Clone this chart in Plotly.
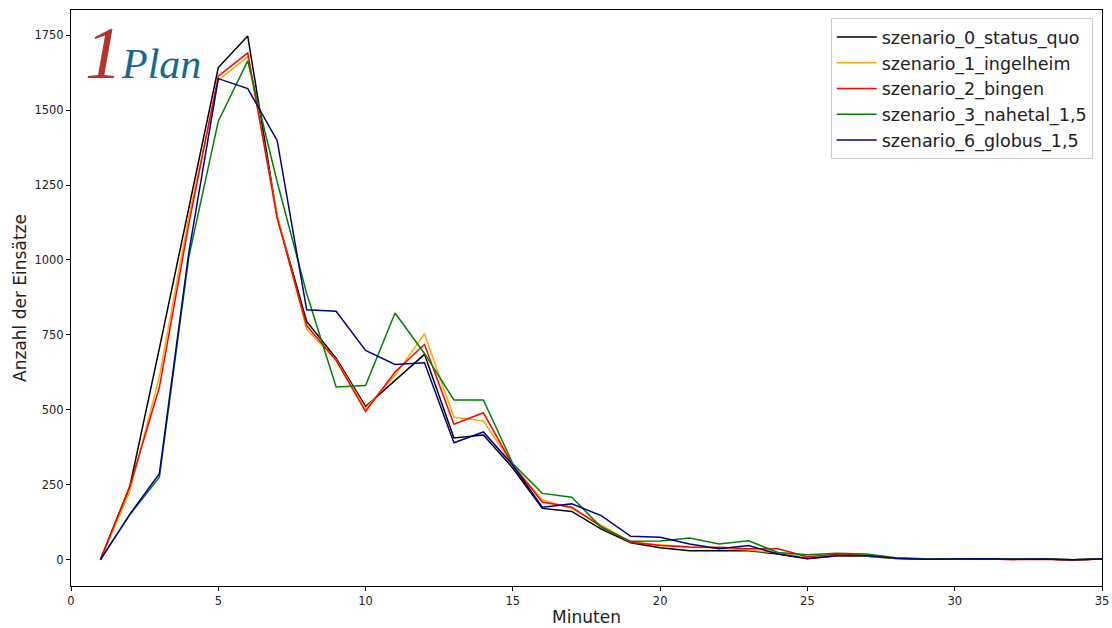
import plotly.graph_objects as go

minutes = list(range(1, 36))

names = ["szenario_0_status_quo", "szenario_1_ingelheim", "szenario_2_bingen",
         "szenario_3_nahetal_1,5", "szenario_6_globus_1,5"]

status_quo = [0, 245, 705, 1175, 1642, 1747, 1143, 795, 672, 511, 598, 685, 406, 416, 305,
              171, 161, 102, 56, 40, 30, 30, 30, 19, 3, 13, 11, 4, 1, 2, 3, 1, 2, 0, 2]
ingelheim = [0, 228, 610, 1145, 1600, 1678, 1150, 768, 667, 504, 615, 754, 475, 463, 315,
             199, 171, 114, 59, 50, 42, 38, 32, 22, 8, 13, 12, 4, 2, 2, 3, 1, 2, 0, 2]
bingen = [0, 245, 575, 1120, 1613, 1691, 1139, 781, 665, 495, 626, 718, 452, 490, 315,
          192, 175, 110, 58, 47, 42, 41, 36, 36, 10, 18, 15, 5, 2, 2, 3, 0, 1, -2, 2]
nahetal = [0, 150, 275, 1010, 1463, 1664, 1260, 888, 576, 581, 823, 688, 533, 533, 320,
           221, 208, 108, 61, 62, 72, 52, 63, 24, 16, 21, 19, 6, 3, 3, 3, 2, 2, 0, 2]
globus = [0, 152, 287, 1025, 1605, 1572, 1398, 834, 829, 698, 651, 657, 390, 426, 315,
          175, 186, 147, 78, 75, 52, 36, 47, 19, 4, 13, 13, 5, 1, 2, 3, 1, 2, 0, 2]

series = [status_quo, ingelheim, bingen, nahetal, globus]
colors = ["#000000", "#FFA500", "#FF0000", "#008000", "#00008B"]

x_ticks = [0, 5, 10, 15, 20, 25, 30, 35]
y_ticks = [0, 250, 500, 750, 1000, 1250, 1500, 1750]

font_family = "DejaVu Sans"

fig = go.Figure()
for name, vals, col in zip(names, series, colors):
    fig.add_trace(go.Scatter(x=minutes, y=vals, mode="lines", name=name,
                             line=dict(color=col, width=1.5)))

axis_common = dict(showline=True, linecolor="black", linewidth=1, mirror=True,
                   ticks="outside", ticklen=4, tickcolor="black", showgrid=False,
                   zeroline=False, automargin=False,
                   tickfont=dict(size=11.5, color="#222", family=font_family))

fig.update_layout(
    width=1112, height=628,
    margin=dict(l=71, r=10, t=10, b=42, autoexpand=False),
    paper_bgcolor="white", plot_bgcolor="white",
    font=dict(family=font_family, color="#222"),
    xaxis=dict(range=[0, 35], tickvals=x_ticks,
               title=dict(text="Minuten", font=dict(size=17, family=font_family), standoff=4),
               **axis_common),
    yaxis=dict(range=[-88, 1834], tickvals=y_ticks,
               title=dict(text="Anzahl der Einsätze", font=dict(size=17, family=font_family), standoff=3),
               **axis_common),
    legend=dict(x=0.991, y=0.986, xanchor="right", yanchor="top",
                bgcolor="rgba(255,255,255,0.8)", bordercolor="#cccccc", borderwidth=1,
                itemwidth=40,
                font=dict(size=17.5, family=font_family, color="#222")),
    showlegend=True,
)

fig.add_annotation(
    xref="paper", yref="paper", x=0.012, y=1.0, xanchor="left", yanchor="top",
    showarrow=False,
    text="<span style='color:#B5332A;font-size:74px'><i>1</i></span>"
         "<span style='color:#17688F;font-size:42px'><i>Plan</i></span>",
    font=dict(family="Liberation Serif"),
)

fig.write_html("out.html", config={"displayModeBar": False},
               post_script="document.body.style.margin='0';document.body.style.padding='0';")
